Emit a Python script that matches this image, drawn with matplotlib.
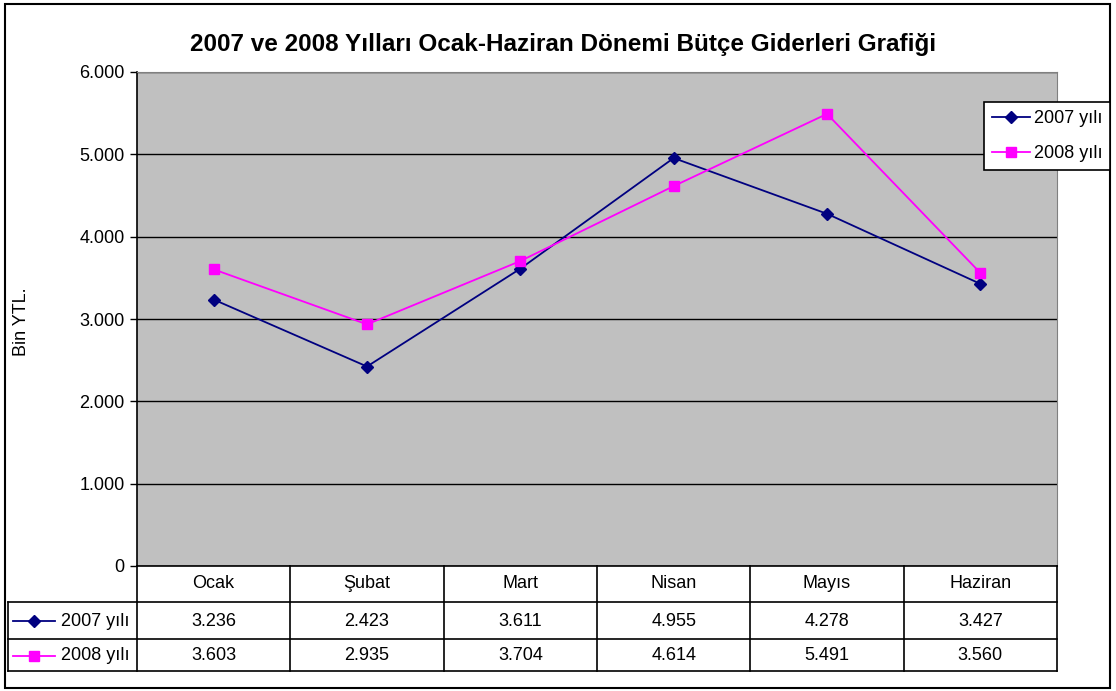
import matplotlib.pyplot as plt
from matplotlib.lines import Line2D
from matplotlib.patches import Rectangle
from matplotlib.ticker import FuncFormatter

plt.rcParams['font.family'] = ['Liberation Sans', 'DejaVu Sans']

# veriler
aylar = ['Ocak', 'Şubat', 'Mart', 'Nisan', 'Mayıs', 'Haziran']
seri_adlari = ['2007 yılı', '2008 yılı']
y2007 = [3236, 2423, 3611, 4955, 4278, 3427]
y2008 = [3603, 2935, 3704, 4614, 5491, 3560]
etiket_2007 = ['3.236', '2.423', '3.611', '4.955', '4.278', '3.427']
etiket_2008 = ['3.603', '2.935', '3.704', '4.614', '5.491', '3.560']

renkler = ['#000080', '#FF00FF']
isaretler = ['D', 's']
fs = 13

W, H = 1116, 691
fig = plt.figure(figsize=(W / 100, H / 100), dpi=100)

def fx(px):
    return px / W

def fy(py):
    return 1 - py / H

# dış çerçeve
fig.patches.append(Rectangle((fx(5), fy(688)), fx(1110) - fx(5), fy(4) - fy(688),
                             transform=fig.transFigure, fill=False,
                             edgecolor='black', linewidth=1.5))

# grafik alanı
x0, x1, ytop, ybot = 137, 1057, 72, 566
ax = fig.add_axes([fx(x0), fy(ybot), fx(x1) - fx(x0), fy(ytop) - fy(ybot)])
ax.set_facecolor('#C0C0C0')
ax.set_xlim(-0.5, 5.5)
ax.set_ylim(0, 6000)
ax.set_yticks(range(0, 6001, 1000))
ax.yaxis.set_major_formatter(FuncFormatter(
    lambda v, p: '0' if v == 0 else f'{int(v):,}'.replace(',', '.')))
ax.set_xticks([])
ax.tick_params(axis='y', direction='out', length=5, width=1, labelsize=fs, pad=4)
ax.grid(axis='y', color='black', linewidth=1)
ax.set_axisbelow(True)
for s in ['top', 'right']:
    ax.spines[s].set_color('#808080')
ax.spines['left'].set_linewidth(1.2)
ax.spines['bottom'].set_linewidth(1.2)

xs = range(len(aylar))
ax.plot(xs, y2007, color=renkler[0], marker=isaretler[0], markersize=6.5,
        linewidth=1.3, label=seri_adlari[0])
ax.plot(xs, y2008, color=renkler[1], marker=isaretler[1], markersize=6.5,
        linewidth=1.3, label=seri_adlari[1])

fig.text(fx(22), fy(322), 'Bin YTL.', rotation=90, fontsize=fs, ha='center', va='center')

fig.text(fx(563), fy(44), '2007 ve 2008 Yılları Ocak-Haziran Dönemi Bütçe Giderleri Grafiği',
         fontsize=17.5, fontweight='bold', ha='center', va='center')

leg = fig.legend(loc='upper left', bbox_to_anchor=(fx(984), fy(102)), fontsize=fs,
                 frameon=True, fancybox=False, framealpha=1, borderpad=0.45,
                 labelspacing=1.0, handlelength=2.1, handletextpad=0.2,
                 borderaxespad=0)
leg.get_frame().set_edgecolor('black')
leg.get_frame().set_linewidth(1.2)

# veri tablosu
col_w = (x1 - x0) / 6
lc = 'black'
def hline(y, xa, xb):
    fig.add_artist(Line2D([fx(xa), fx(xb)], [fy(y), fy(y)], color=lc, linewidth=1.2))
def vline(x, ya, yb):
    fig.add_artist(Line2D([fx(x), fx(x)], [fy(ya), fy(yb)], color=lc, linewidth=1.2))

hline(602, 8, x1)
hline(639, 8, x1)
hline(671, 8, x1)
vline(8, 602, 671)
for i in range(7):
    vline(x0 + i * col_w, 566, 671)

for i, ay in enumerate(aylar):
    cx = x0 + (i + 0.5) * col_w
    fig.text(fx(cx), fy(584), ay, fontsize=fs, ha='center', va='center')
    fig.text(fx(cx), fy(621), etiket_2007[i], fontsize=fs, ha='center', va='center')
    fig.text(fx(cx), fy(656), etiket_2008[i], fontsize=fs, ha='center', va='center')

for j, (yy, ad) in enumerate(zip([621, 656], seri_adlari)):
    fig.add_artist(Line2D([fx(13), fx(55)], [fy(yy), fy(yy)], color=renkler[j], linewidth=1.3))
    fig.add_artist(Line2D([fx(34)], [fy(yy)], color=renkler[j], marker=isaretler[j],
                          markersize=6.5, linestyle='none'))
    fig.text(fx(61), fy(yy), ad, fontsize=fs, ha='left', va='center')

fig.savefig('out.png', dpi=100)
